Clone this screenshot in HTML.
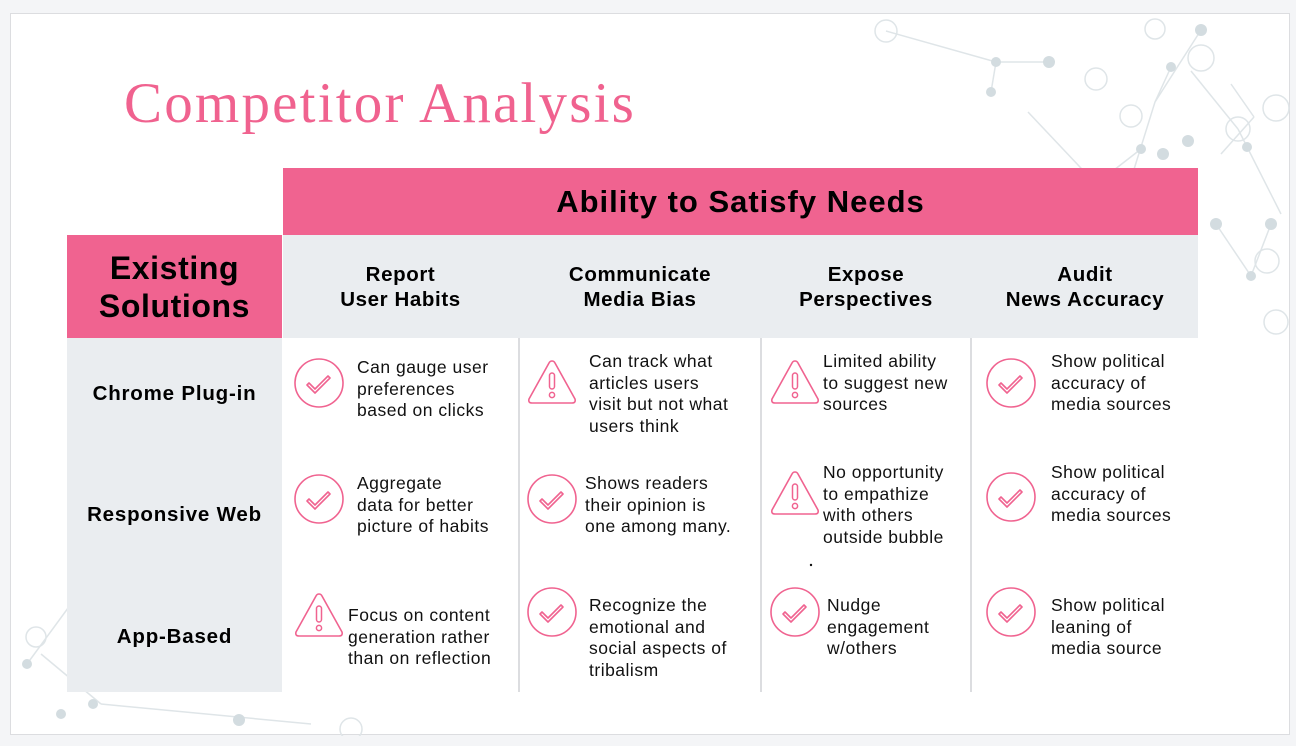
<!DOCTYPE html>
<html><head><meta charset="utf-8">
<style>
*{margin:0;padding:0;box-sizing:border-box}
body{width:1296px;height:746px;background:#f4f5f7;position:relative;overflow:hidden;font-family:"Liberation Sans",sans-serif}
#slide{position:absolute;left:10px;top:13px;width:1280px;height:722px;background:#fff;border:1px solid #dcdde0}
.a{position:absolute}
.title{font-family:"Liberation Serif",serif;font-size:57px;color:#f0628f;letter-spacing:2.2px}
.pink{background:#f06390}
.gray{background:#eaedf0}
.hd{font-weight:bold;color:#000;text-align:center;display:flex;align-items:center;justify-content:center;letter-spacing:0.6px}
.txt{font-size:17.5px;line-height:21.5px;color:#111;letter-spacing:0.5px;white-space:nowrap}
.rowlab{font-weight:bold;font-size:20.5px;text-align:center;width:215px;left:67px;letter-spacing:0.8px}
.sep{background:#dcdde0;width:2px;top:338px;height:354px}
</style></head><body>
<div id="slide">
<svg class="a" style="left:0;top:0" width="1280" height="722">
<g stroke="#dfe5e8" stroke-width="1.5" fill="none">
<line x1="875" y1="17" x2="985" y2="48"/><line x1="985" y1="48" x2="1038" y2="48"/><line x1="985" y1="48" x2="980" y2="78"/>
<line x1="1017" y1="98" x2="1085" y2="170"/><line x1="1085" y1="170" x2="1130" y2="135"/><line x1="1144" y1="88" x2="1120" y2="165"/>
<line x1="1144" y1="88" x2="1160" y2="53"/><line x1="1180" y1="57" x2="1227" y2="115"/><line x1="1227" y1="115" x2="1270" y2="200"/>
<line x1="1220" y1="70" x2="1243" y2="103"/><line x1="1144" y1="88" x2="1190" y2="16"/><line x1="1260" y1="210" x2="1240" y2="262"/>
<line x1="1205" y1="210" x2="1240" y2="262"/><line x1="1243" y1="103" x2="1210" y2="140"/>
<line x1="60" y1="590" x2="16" y2="650"/><line x1="30" y1="640" x2="90" y2="690"/><line x1="90" y1="690" x2="300" y2="710"/>
</g>
<g fill="#d3dce0">
<circle cx="985" cy="48" r="5"/><circle cx="1038" cy="48" r="6"/><circle cx="980" cy="78" r="5"/><circle cx="1130" cy="135" r="5"/>
<circle cx="1160" cy="53" r="5"/><circle cx="1190" cy="16" r="6"/><circle cx="1177" cy="127" r="6"/><circle cx="1152" cy="140" r="6"/>
<circle cx="1236" cy="133" r="5"/><circle cx="1260" cy="210" r="6"/><circle cx="1205" cy="210" r="6"/><circle cx="1240" cy="262" r="5"/>
<circle cx="16" cy="650" r="5"/><circle cx="82" cy="690" r="5"/><circle cx="228" cy="706" r="6"/><circle cx="50" cy="700" r="5"/>
</g>
<g fill="none" stroke="#dfe5e8" stroke-width="1.5">
<circle cx="875" cy="17" r="11"/><circle cx="1085" cy="65" r="11"/><circle cx="1144" cy="15" r="10"/><circle cx="1120" cy="102" r="11"/>
<circle cx="1190" cy="44" r="13"/><circle cx="1227" cy="115" r="12"/><circle cx="1265" cy="94" r="13"/><circle cx="1256" cy="247" r="12"/>
<circle cx="1265" cy="308" r="12"/><circle cx="25" cy="623" r="10"/><circle cx="340" cy="715" r="11"/>
</g>
<circle cx="800" cy="551" r="1.2" fill="#111"/>
</svg>
<div class="a title" style="left:113px;top:57px">Competitor Analysis</div>
</div>

<div class="a pink hd" style="left:283px;top:168px;width:915px;height:67px;font-size:31px;letter-spacing:1px">Ability to Satisfy Needs</div>
<div class="a pink hd" style="left:67px;top:235px;width:215px;height:103px;font-size:32px;line-height:38px">Existing<br>Solutions</div>
<div class="a gray" style="left:283px;top:235px;width:915px;height:103px"></div>
<div class="a hd" style="left:283px;top:235px;width:235px;height:103px;font-size:20.5px;line-height:25px">Report<br>User Habits</div>
<div class="a hd" style="left:520px;top:235px;width:240px;height:103px;font-size:20.5px;line-height:25px">Communicate<br>Media Bias</div>
<div class="a hd" style="left:762px;top:235px;width:208px;height:103px;font-size:20.5px;line-height:25px">Expose<br>Perspectives</div>
<div class="a hd" style="left:972px;top:235px;width:226px;height:103px;font-size:20.5px;line-height:25px">Audit<br>News Accuracy</div>

<div class="a gray" style="left:67px;top:338px;width:215px;height:354px"></div>
<div class="a rowlab" style="top:382px">Chrome Plug-in</div>
<div class="a rowlab" style="top:503px">Responsive Web</div>
<div class="a rowlab" style="top:625px">App-Based</div>
<div class="a sep" style="left:518px"></div>
<div class="a sep" style="left:760px"></div>
<div class="a sep" style="left:970px"></div>

<div id="cells"></div>
<script>
const checkSvg='<svg width="52" height="52" viewBox="0 0 52 52"><circle cx="26" cy="26" r="24" fill="none" stroke="#f06390" stroke-width="1.6"/><path d="M16 26 L22 32 L35 19 L37 21 L22 36 L14 28 Z" fill="none" stroke="#f06390" stroke-width="1.6" stroke-linejoin="round"/></svg>';
const warnSvg='<svg width="52" height="48" viewBox="0 0 52 48"><path d="M26 3 Q28 3 29 5 L49 41 Q50 45 46 45 L6 45 Q2 45 3 41 L23 5 Q24 3 26 3 Z" fill="none" stroke="#f06390" stroke-width="1.6"/><rect x="23.5" y="15" width="5" height="16" rx="2.5" fill="none" stroke="#f06390" stroke-width="1.5"/><circle cx="26" cy="37" r="2.6" fill="none" stroke="#f06390" stroke-width="1.5"/></svg>';
const cells=[
 [293,357,357,357,'c',"Can gauge user<br>preferences<br>based on clicks",'cell-chrome-habits'],
 [526,589,351,358,'w',"Can track what<br>articles users<br>visit but not what<br>users think",'cell-chrome-bias'],
 [769,823,351,358,'w',"Limited ability<br>to suggest new<br>sources",'cell-chrome-perspectives'],
 [985,1051,351,357,'c',"Show political<br>accuracy of<br>media sources",'cell-chrome-accuracy'],
 [293,357,473,473,'c',"Aggregate<br>data for better<br>picture of habits",'cell-web-habits'],
 [526,585,473,473,'c',"Shows readers<br>their opinion is<br>one among many.",'cell-web-bias'],
 [769,823,462,469,'w',"No opportunity<br>to empathize<br>with others<br>outside bubble",'cell-web-perspectives'],
 [985,1051,462,471,'c',"Show political<br>accuracy of<br>media sources",'cell-web-accuracy'],
 [293,348,605,591,'w',"Focus on content<br>generation rather<br>than on reflection",'cell-app-habits'],
 [526,589,595,586,'c',"Recognize the<br>emotional and<br>social aspects of<br>tribalism",'cell-app-bias'],
 [769,827,595,586,'c',"Nudge<br>engagement<br>w/others",'cell-app-perspectives'],
 [985,1051,595,586,'c',"Show political<br>leaning of<br>media source",'cell-app-accuracy']
];
const host=document.getElementById('cells');
cells.forEach(c=>{
 const ic=document.createElement('div');
 ic.className='a';
 ic.style.left=c[0]+'px';
 ic.style.top=c[3]+'px';
 ic.innerHTML=c[4]==='c'?checkSvg:warnSvg;
 
 
 host.appendChild(ic);
 const tx=document.createElement('div');
 tx.className='a txt';
 tx.style.left=c[1]+'px';
 tx.style.top=c[2]+'px';
 tx.innerHTML=c[5];
 
 
 host.appendChild(tx);
});
</script>
</body></html>
